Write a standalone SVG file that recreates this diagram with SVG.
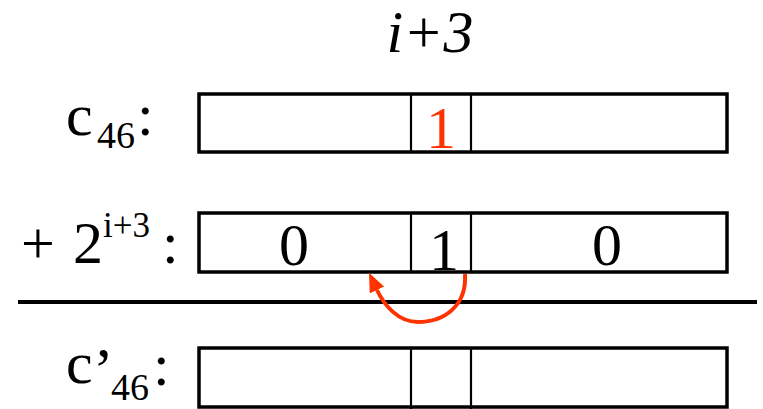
<svg xmlns="http://www.w3.org/2000/svg" width="763" height="409" viewBox="0 0 763 409">
<style>
.box{fill:#fff;stroke:#000;stroke-width:3.5}
.div{stroke:#000;stroke-width:2.2}
.red{fill:#ff3300}
</style>
<defs>
<marker id="ah" markerWidth="20" markerHeight="16" refX="0" refY="8" orient="auto" markerUnits="userSpaceOnUse" viewBox="0 0 20 16">
<path d="M0,0 L19,8 L0,16 z" fill="#ff3300"/>
</marker>
</defs>
<text x="430" y="52" style="font-family:'Liberation Serif';font-size:60px;font-style:italic" text-anchor="middle">i+3</text>
<g id="row1">
<rect class="box" x="199" y="94" width="528" height="58"/>
<line class="div" x1="411" y1="94" x2="411" y2="152"/>
<line class="div" x1="471" y1="94" x2="471" y2="152"/>
<text class="red" x="441" y="148" style="font-family:'Liberation Serif';font-size:60px" text-anchor="middle">1</text>
<text x="66" y="135" style="font-family:'Liberation Serif';font-size:60px">c</text>
<text x="97" y="148" style="font-family:'Liberation Serif';font-size:38px">46</text>
<text x="137" y="135" style="font-family:'Liberation Serif';font-size:60px">:</text>
</g>
<g id="row2">
<rect class="box" x="199" y="213" width="528" height="59"/>
<line class="div" x1="411" y1="213" x2="411" y2="272"/>
<line class="div" x1="471" y1="213" x2="471" y2="272"/>
<text x="294" y="265" style="font-family:'Liberation Serif';font-size:60px" text-anchor="middle">0</text>
<text x="444" y="270" style="font-family:'Liberation Serif';font-size:60px" text-anchor="middle">1</text>
<text x="607" y="265" style="font-family:'Liberation Serif';font-size:60px" text-anchor="middle">0</text>
<text x="21" y="263" style="font-family:'Liberation Serif';font-size:60px">+</text>
<text x="73" y="263" style="font-family:'Liberation Serif';font-size:60px">2</text>
<text x="103" y="237" style="font-family:'Liberation Serif';font-size:35px">i+3</text>
<text x="162" y="263" style="font-family:'Liberation Serif';font-size:60px">:</text>
</g>
<g id="row3">
<rect class="box" x="199" y="348" width="528" height="59"/>
<line class="div" x1="411" y1="348" x2="411" y2="409"/>
<line class="div" x1="471" y1="348" x2="471" y2="409"/>
<text x="66" y="383" style="font-family:'Liberation Serif';font-size:60px">c</text>
<text x="93" y="390" style="font-family:'Liberation Serif';font-size:62px">’</text>
<text x="111" y="400" style="font-family:'Liberation Serif';font-size:38px">46</text>
<text x="153" y="385" style="font-family:'Liberation Serif';font-size:60px">:</text>
</g>
<g id="connectors">
<line x1="18" y1="302" x2="757" y2="302" stroke="#000" stroke-width="4"/>
<path d="M465,274 C467,305 445,322 418,322 C398,322 384,305 377,290" fill="none" stroke="#ff3300" stroke-width="4" marker-end="url(#ah)"/>
</g>
</svg>
